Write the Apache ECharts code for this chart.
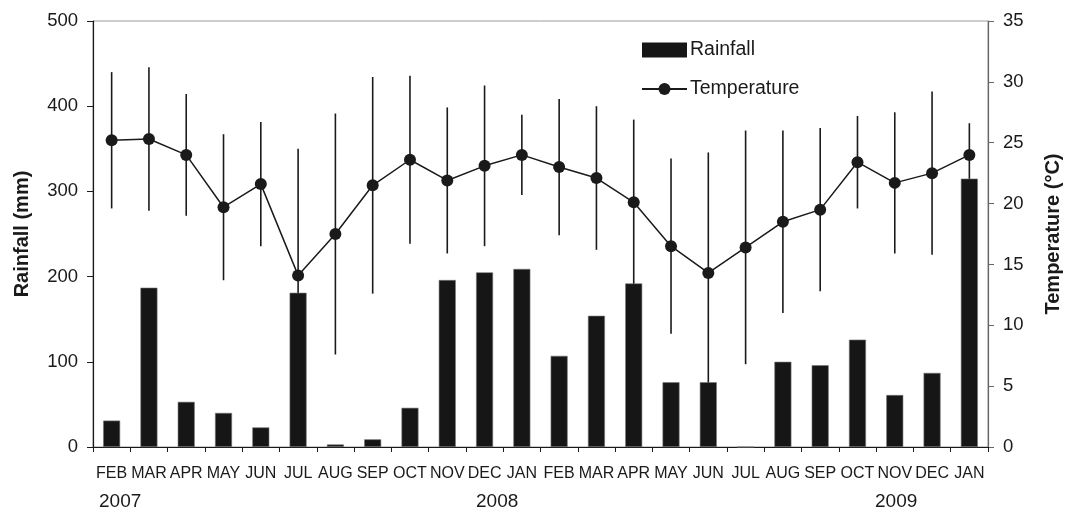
<!DOCTYPE html>
<html>
<head>
<meta charset="utf-8">
<script src="https://cdn.jsdelivr.net/npm/echarts@6/dist/echarts.min.js"></script>
<style>
html,body{margin:0;padding:0;background:#fff;}
#chart{width:1071px;height:510px;}
</style>
</head>
<body>
<div id="chart"></div>
<script>
const months = ['FEB','MAR','APR','MAY','JUN','JUL','AUG','SEP','OCT','NOV','DEC','JAN',
                'FEB','MAR','APR','MAY','JUN','JUL','AUG','SEP','OCT','NOV','DEC','JAN'];
const rainfall = [31,187,53,40,23,181,3,9,46,196,205,209,
                  107,154,192,76,76,0,100,96,126,61,87,315];
const temperature = [25.2,25.3,24.0,19.7,21.6,14.1,17.5,21.5,23.6,21.9,23.1,24.0,
                     23.0,22.1,20.1,16.5,14.3,16.4,18.5,19.5,23.4,21.7,22.5,24.0];
const temperatureSD = [5.6,5.9,5.0,6.0,5.1,10.4,9.9,8.9,6.9,6.0,6.6,3.3,
                       5.6,5.9,6.8,7.2,9.9,9.6,7.5,6.7,3.8,5.8,6.7,2.6];
const rainTicks = {min:0,max:500,interval:100};
const tempTicks = {min:0,max:35,interval:5};
const years = [{text:'2007',x:121},{text:'2008',x:498},{text:'2009',x:897}];

const FONT = 'Liberation Sans, Arial, Helvetica, sans-serif';
const INK = '#1a1a1a';

const chart = echarts.init(document.getElementById('chart'));
const errData = temperature.map((m,i)=>[i, m - temperatureSD[i], m + temperatureSD[i]]);

chart.setOption({
  animation:false,
  textStyle:{fontFamily:FONT},
  grid:{left:93,right:82,top:21,bottom:63,show:true,borderColor:'#999',borderWidth:1,backgroundColor:'transparent'},
  legend:{
    orient:'vertical', left:636, top:35, itemWidth:45, itemHeight:15, itemGap:19,
    textStyle:{fontSize:19.5,color:INK,fontFamily:FONT,padding:[0,0,0,-2]},
    data:[{name:'Rainfall',icon:'rect',itemStyle:{borderWidth:0,color:'#161616'}},{name:'Temperature'}]
  },
  xAxis:{
    type:'category', data:months, boundaryGap:true,
    axisLine:{lineStyle:{color:INK,width:1.2}},
    axisTick:{show:true,length:5,lineStyle:{color:INK}},
    axisLabel:{color:INK,fontSize:16,margin:19,interval:0,fontFamily:FONT},
    splitLine:{show:false}
  },
  yAxis:[{
    type:'value', min:rainTicks.min, max:rainTicks.max, interval:rainTicks.interval,
    name:'Rainfall (mm)', nameLocation:'middle', nameRotate:90, nameGap:61,
    nameTextStyle:{fontSize:20,fontWeight:'bold',color:INK,fontFamily:FONT},
    axisLine:{show:true,lineStyle:{color:INK,width:1.2}},
    axisTick:{show:true,length:6,lineStyle:{color:INK}},
    axisLabel:{color:INK,fontSize:18.5,margin:15,fontFamily:FONT},
    splitLine:{show:false}
  },{
    type:'value', position:'right', min:tempTicks.min, max:tempTicks.max, interval:tempTicks.interval,
    name:'Temperature (°C)', nameLocation:'middle', nameRotate:90, nameGap:55,
    nameTextStyle:{fontSize:20,fontWeight:'bold',color:INK,fontFamily:FONT},
    axisLine:{show:true,lineStyle:{color:'#666',width:1.2}},
    axisTick:{show:true,length:6,lineStyle:{color:'#666'}},
    axisLabel:{color:INK,fontSize:18.5,margin:15,fontFamily:FONT},
    splitLine:{show:false}
  }],
  graphic: years.map(y=>({
    type:'text', left:y.x-22, top:492,
    style:{text:y.text,fontSize:19,fill:INK,fontFamily:FONT}
  })),
  series:[{
    name:'Temperature SD', type:'custom', yAxisIndex:1, z:1,
    data:errData,
    renderItem:function(params,api){
      const lo = api.coord([api.value(0), api.value(1)]);
      const hi = api.coord([api.value(0), api.value(2)]);
      return {type:'line', shape:{x1:lo[0],y1:lo[1],x2:hi[0],y2:hi[1]},
              style:{stroke:INK,lineWidth:1.6}};
    }
  },{
    name:'Rainfall', type:'bar', yAxisIndex:0, data:rainfall, barWidth:17, z:2,
    itemStyle:{color:'#161616',borderColor:'#777',borderWidth:0.6}
  },{
    name:'Temperature', type:'line', yAxisIndex:1, data:temperature, z:3,
    symbol:'circle', symbolSize:12,
    lineStyle:{color:INK,width:1.5}, itemStyle:{color:INK}
  }]
});
</script>
</body>
</html>
